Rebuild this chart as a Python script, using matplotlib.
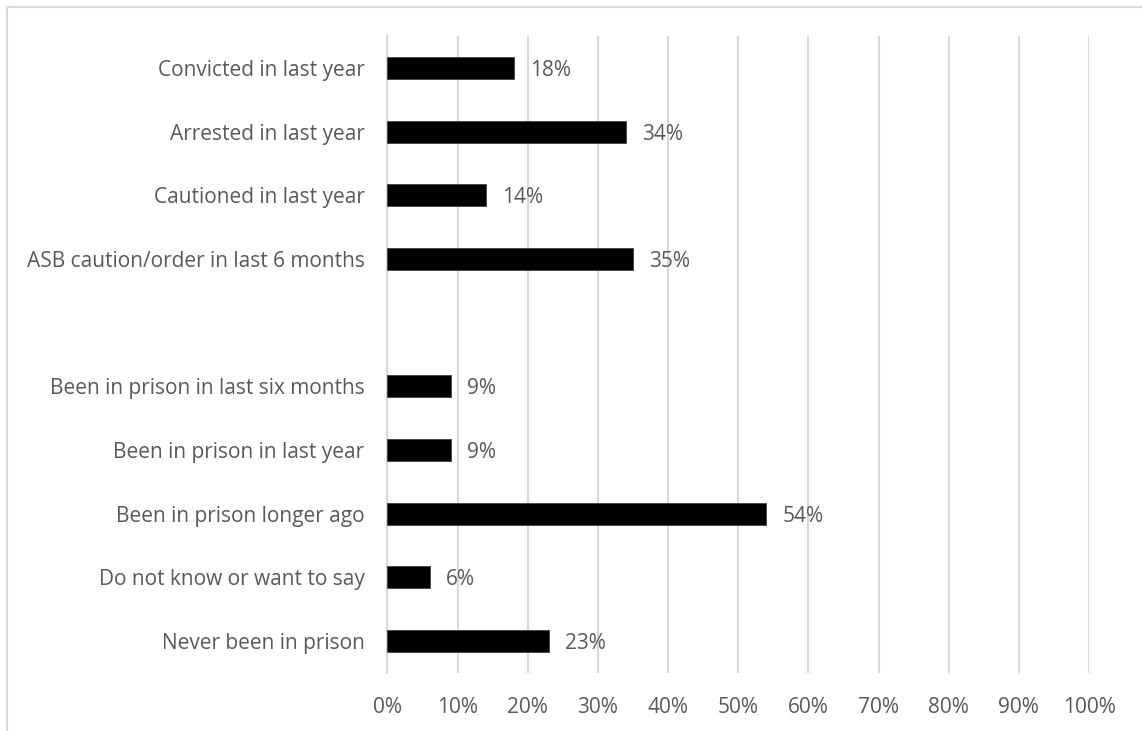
import matplotlib.pyplot as plt
from matplotlib.lines import Line2D

categories = [
    'Convicted in last year',
    'Arrested in last year',
    'Cautioned in last year',
    'ASB caution/order in last 6 months',
    '',
    'Been in prison in last six months',
    'Been in prison in last year',
    'Been in prison longer ago',
    'Do not know or want to say',
    'Never been in prison',
]
values = [18, 34, 14, 35, None, 9, 9, 54, 6, 23]
xticks = [0, 10, 20, 30, 40, 50, 60, 70, 80, 90, 100]

text_color = '#595959'
grid_color = '#d9d9d9'
fs = 15

plt.rcParams['font.family'] = ['Open Sans', 'DejaVu Sans']

fig = plt.figure(figsize=(11.42, 7.31), dpi=100)
ax = fig.add_axes([0.3393, 0.0793, 0.6143, 0.8715])

# chart frame (open at right and bottom)
fig.add_artist(Line2D([7 / 1142, 7 / 1142], [0, 1 - 7 / 731], transform=fig.transFigure,
                      color=grid_color, lw=1.5))
fig.add_artist(Line2D([7 / 1142, 1], [1 - 7 / 731, 1 - 7 / 731], transform=fig.transFigure,
                      color=grid_color, lw=1.5))

ypos = list(range(len(categories)))
for y, v in zip(ypos, values):
    if v is None:
        continue
    ax.barh(y, v, height=0.345, color='black', edgecolor='#404040', linewidth=0.6, zorder=3)
    ax.text(v + 2.3, y, '{}%'.format(v), va='center_baseline', ha='left',
            fontsize=fs, color=text_color)

ax.set_ylim(len(categories) - 0.5, -0.5)
ax.set_xlim(0, 100)
ax.set_yticks(ypos)
ax.set_yticklabels(categories, fontsize=fs, color=text_color)
ax.set_xticks(xticks)
ax.set_xticklabels(['{}%'.format(t) for t in xticks], fontsize=fs, color=text_color)
ax.tick_params(axis='y', length=0, pad=16.5)
ax.tick_params(axis='x', length=0, pad=17)

ax.grid(axis='x', color=grid_color, linewidth=1.5, zorder=0)
for s in ['top', 'right', 'bottom']:
    ax.spines[s].set_visible(False)
ax.spines['left'].set_color(grid_color)
ax.spines['left'].set_linewidth(1.5)

fig.savefig('out.png', dpi=100)
